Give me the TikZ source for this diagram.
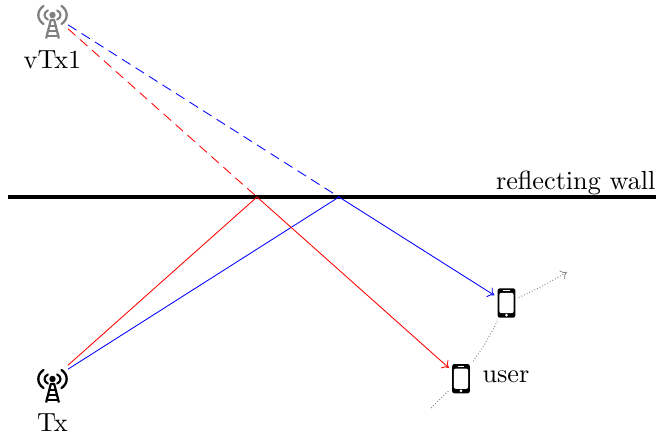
\documentclass[tikz,border=0pt]{standalone}
\usetikzlibrary{arrows.meta,calc}
\newcommand{\antennaicon}[1]{%
  \path[fill=#1] (0,0) circle (3.2);
  \draw[#1,line width=2.1,line cap=round] (-4.6,-4.6) .. controls (-9.1,-2.4) and (-9.1,2.4) .. (-4.6,4.6);
  \draw[#1,line width=2.1,line cap=round] (4.6,-4.6) .. controls (9.1,-2.4) and (9.1,2.4) .. (4.6,4.6);
  \draw[#1,line width=2.3,line cap=round] (-9,-9) .. controls (-15.9,-4.5) and (-15.9,4.5) .. (-9,9);
  \draw[#1,line width=2.3,line cap=round] (9,-9) .. controls (15.9,-4.5) and (15.9,4.5) .. (9,9);
  \draw[#1,line width=2.2,line join=round] (-6.4,23.5) -- (-1.7,5) -- (1.7,5) -- (6.4,23.5);
  \draw[#1,line width=1.7] (-2.6,11) -- (2.6,11) (-3.8,16) -- (3.8,16) (-5.2,20.8) -- (5.2,20.8);
}
\tikzset{
  x=1pt,y=-1pt,
  antenna/.style={minimum width=31pt,minimum height=50pt,inner sep=0pt,outer sep=0pt,
    path picture={\begin{scope}[shift={(path picture bounding box.center)}]\antennaicon{#1}\end{scope}}},
  phone/.style={fill=black,rounded corners=2.2pt,minimum width=17.6pt,minimum height=29.4pt,
    inner sep=0pt,outer sep=3.4pt,
    path picture={\begin{scope}[shift={(path picture bounding box.center)}]
      \fill[white] (-7.2,-10.2) rectangle (7.2,10.2);
      \fill[white] (0,12.2) circle (1.5);
      \draw[white,line width=0.7] (-3.2,-12.2) -- (3.2,-12.2);
    \end{scope}}},
  lab/.style={inner sep=0pt,scale=2.62},
  ray/.style={line width=0.85pt,-{Computer Modern Rightarrow[width=11pt,length=6pt,line width=0.85pt]}},
  vray/.style={line width=0.85pt,dash pattern=on 10pt off 6pt},
  track/.style={gray,dotted,line width=0.9pt},
}
\begin{document}
\begin{tikzpicture}[x=1pt,y=-1pt]
\useasboundingbox (0,0) rectangle (656,436);
\node[antenna=gray] (vtx) at (52.5,15) {};
\node[antenna=black] (tx) at (52.5,379) {};
\node[lab,anchor=center] (vtxl) at (52.5,59.5) {vTx1};
\node[lab,anchor=center] (txl) at (52.5,423) {Tx};
\coordinate (wl) at (8,197);
\coordinate (wr) at (656,197);
\draw[line width=4.6pt] (wl) -- (wr);
\node[lab,anchor=east] (walll) at (656,182.5) {reflecting wall};
\coordinate (pr) at (257,197);
\coordinate (pb) at (339,197);
\node[phone] (u2) at (506.5,303) {};
\node[phone] (u1) at (461,378.7) {};
\node[lab,anchor=west] (ul) at (482,376.5) {user};
\coordinate (s) at (431,408);
\coordinate (e) at (567,272);
\draw[red,vray] (vtx) -- (pr);
\draw[blue,vray] (vtx) -- (pb);
\draw[red,line width=0.85pt] (tx) -- (pr);
\draw[blue,line width=0.85pt] (tx) -- (pb);
\draw[red,ray] (pr) -- (u1);
\draw[blue,ray] (pb) -- (u2);
\draw[track] (s) -- (u1);
\draw[track] (u1) to[bend right=4] (u2);
\draw[track,-{Computer Modern Rightarrow[width=10pt,length=6pt,line width=0.7pt]}] (u2) to[bend right=3] (e);
\end{tikzpicture}
\end{document}
